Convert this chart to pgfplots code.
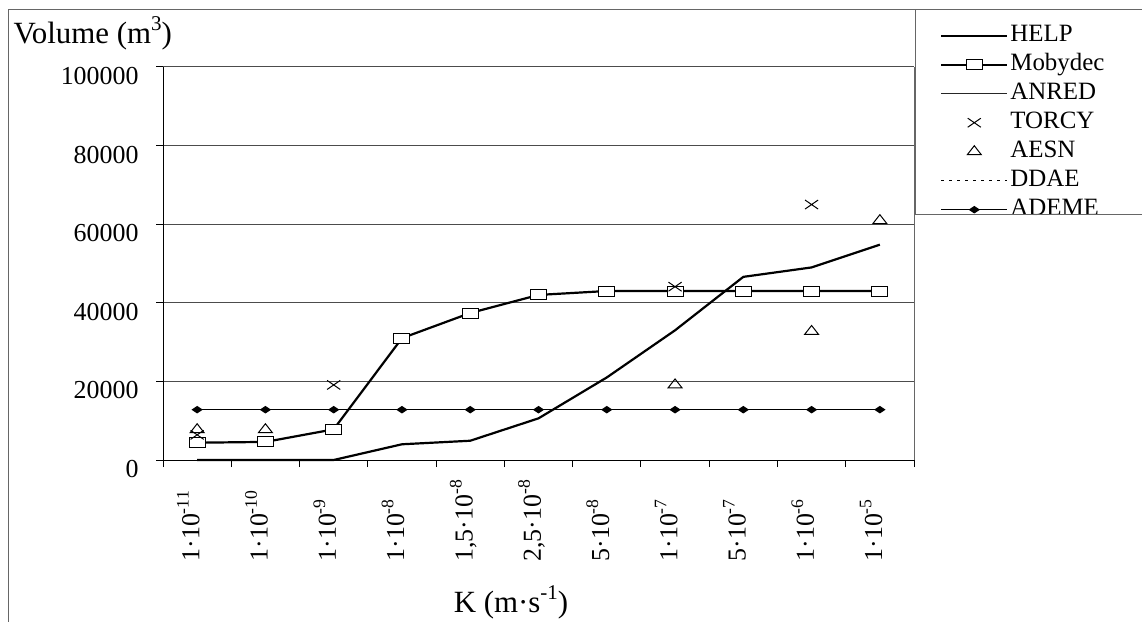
\documentclass[border=0pt]{standalone}
\usepackage{pgfplots}
\pgfplotsset{compat=1.18}
\usepackage{fontspec}
\setmainfont{Liberation Serif}
\newcommand\sups[1]{\raisebox{0.42em}{\scalebox{0.68}{#1}}}

\pgfplotstableread{
x help moby torcy aesn ademe anred
0 0     4400  6400  7700  12800 39200
1 0     4600  nan   7700  12800 nan
2 0     7800  19100 nan   12800 nan
3 4000  31000 nan   nan   12800 nan
4 4900  37400 nan   nan   12800 nan
5 10600 42000 nan   nan   12800 nan
6 21000 43000 nan   nan   12800 nan
7 33000 43000 44100 19100 12800 nan
8 46600 43000 nan   nan   12800 nan
9 49000 43000 65000 32700 12800 nan
10 54800 43000 nan  60900 12800 39200
}\datatable

\begin{document}
\begin{tikzpicture}
\begin{axis}[
  at={(163bp,162bp)}, anchor=south west,
  scale only axis, width=751bp, height=393bp,
  xmin=-0.5, xmax=10.5, ymin=0, ymax=100000,
  axis lines=left, axis line style={-, black, line width=1bp},
  tick align=outside, major tick length=7bp,
  tick style={black, line width=1bp},
  xtick={-0.5,0.5,...,10.5}, xticklabels={},
  extra x ticks={0,1,2,3,4,5,6,7,8,9,10},
  extra x tick labels={{1·10\sups{-11}},{1·10\sups{-10}},{1·10\sups{-9}},{1·10\sups{-8}},{1,5·10\sups{-8}},{2,5·10\sups{-8}},{5·10\sups{-8}},{1·10\sups{-7}},{5·10\sups{-7}},{1·10\sups{-6}},{1·10\sups{-5}}},
  extra x tick style={major tick length=0pt},
  xticklabel style={rotate=90, anchor=mid west, font=\fontsize{26}{26}\selectfont},
  xticklabel shift=105bp,
  ytick={0,20000,40000,60000,80000,100000},
  yticklabels={0,20000,40000,60000,80000,100000},
  scaled y ticks=false,
  yticklabel style={font=\fontsize{26}{26}\selectfont, yshift=-9bp},
  yticklabel shift=14bp,
  ymajorgrids, major grid style={black!70, line width=1bp},
  xlabel={K (m·s\sups{-1})},
  ylabel={Volume (m\sups{3})},
  every axis x label/.style={at={(axis description cs:0.4634,-0.389)}, anchor=base, font=\fontsize{31}{31}\selectfont},
  every axis y label/.style={at={(axis description cs:-0.2037,1.060)}, anchor=base west, font=\fontsize{31}{31}\selectfont},
  clip=false,
  legend style={at={(axis description cs:1.0346,1.117)}, anchor=north west, draw=none, fill=none,
    font=\fontsize{25}{25}\selectfont, inner sep=0pt, row sep=0pt,
    nodes={inner xsep=2bp, inner ysep=1bp, text height=19bp, text depth=8bp},
    /tikz/every even column/.append style={column sep=4bp}},
  legend cell align=left,
  legend image code/.code={\draw[mark repeat=2,mark phase=2,#1] plot coordinates {(0bp,0bp) (33bp,0bp) (66bp,0bp)};},
  after end axis/.code={\draw[black!60, line width=1bp] (rel axis cs:1,0) -- (rel axis cs:1,1);},
]
\addplot[black, line width=2.2bp, no marks] table[x=x, y=help] {\datatable};
\addlegendentry{HELP}
\addplot[black, line width=2.2bp, mark=square*, mark size=5bp, mark options={fill=white, line width=1bp, xscale=1.6}] table[x=x, y=moby] {\datatable};
\addlegendentry{Mobydec}
\addplot[black!85, line width=1.2bp, no marks, unbounded coords=jump] table[x=x, y=anred] {\datatable};
\addlegendentry{ANRED}
\addplot[black, only marks, mark=x, mark size=6.4bp, mark options={line width=1bp, xscale=1.45}] table[x=x, y=torcy] {\datatable};
\addlegendentry{TORCY}
\addplot[black, only marks, mark=triangle, mark size=6bp, mark options={line width=1bp, xscale=1.35}] table[x=x, y=aesn] {\datatable};
\addlegendentry{AESN}
\addlegendimage{black, line width=1.5bp, dash pattern=on 3bp off 5bp}
\addlegendentry{DDAE}
\addplot[black, line width=1.3bp, mark=diamond*, mark size=3bp, mark options={xscale=2}] table[x=x, y=ademe] {\datatable};
\addlegendentry{ADEME}
\end{axis}
\draw[black!60, line width=1bp] (8bp,0bp) -- (8bp,612bp) -- (1142bp,612bp);
\draw[black!60, line width=1bp] (915bp,612bp) -- (915bp,407bp) -- (1150bp,407bp);
\pgfresetboundingbox
\path[use as bounding box] (0bp,0bp) rectangle (1142bp,622bp);
\end{tikzpicture}
\end{document}
